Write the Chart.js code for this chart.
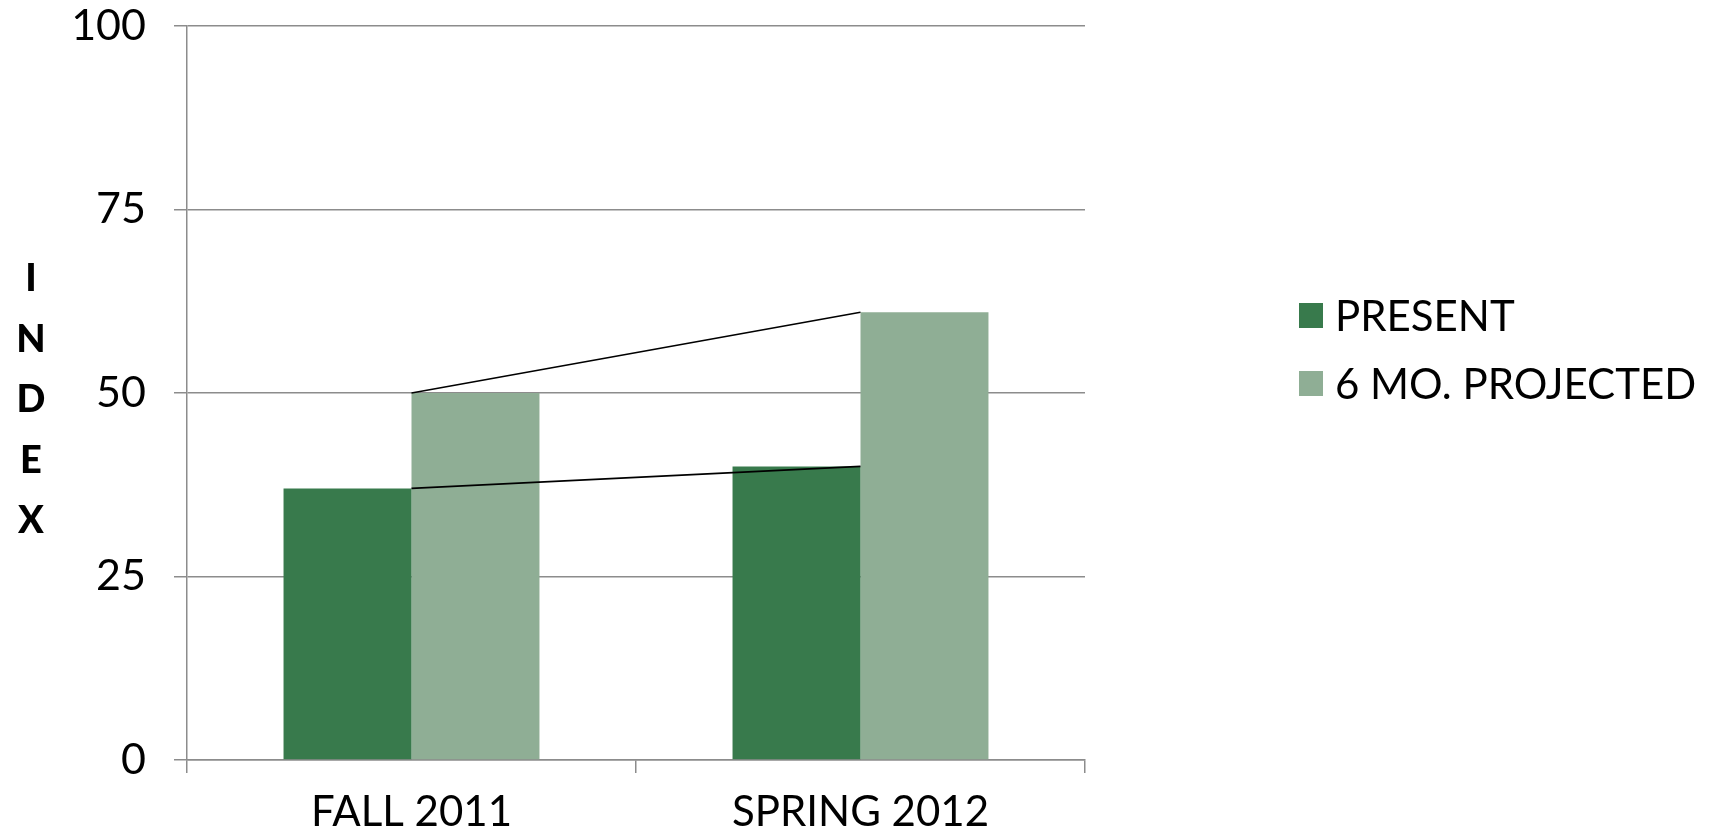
<!DOCTYPE html>
<html><head><meta charset="utf-8">
<script src="https://cdn.jsdelivr.net/npm/chart.js@4"></script>
<style>
html,body{margin:0;padding:0;background:#fff;}
#wrap{position:relative;width:1717px;height:835px;font-family:Lato,"Noto Sans",sans-serif;}
#c{position:absolute;left:0;top:0;}
#ytitle{position:absolute;left:12px;top:246px;width:38px;text-align:center;font-weight:900;font-size:38px;line-height:60.5px;color:#000;}
.leg{position:absolute;left:1299px;font-size:42px;color:#000;white-space:nowrap;}
.leg span.box{position:absolute;left:0;width:24px;height:25px;}
.leg span.t{position:absolute;left:36px;line-height:44px;}
</style></head>
<body><div id="wrap">
<canvas id="c" width="1717" height="835"></canvas>
<div id="ytitle">I<br>N<br>D<br>E<br>X</div>
<div class="leg" style="top:303px"><span class="box" style="background:#387a4c"></span><span class="t" style="top:-10px">PRESENT</span></div>
<div class="leg" style="top:371px"><span class="box" style="background:#8fae95"></span><span class="t" style="top:-10px">6 MO. PROJECTED</span></div>
</div>
<script>
const categories = ["FALL 2011", "SPRING 2012"];
const presentValues = [37, 40];
const projectedValues = [50, 61];
const yTicks = [0, 25, 50, 75, 100];

const grid = '#8c8c8c';
new Chart(document.getElementById('c'), {
  type: 'bar',
  data: {
    labels: categories,
    datasets: [
      {type:'line', label:'present-link', data: presentValues, borderColor:'#000', borderWidth:1.6, pointRadius:0, fill:false, order:0, tension:0},
      {type:'line', label:'projected-link', data: projectedValues, borderColor:'#000', borderWidth:1.6, pointRadius:0, fill:false, order:0, tension:0},
      {label:'PRESENT', data: presentValues, backgroundColor:'#387a4c', order:1, barPercentage:1, categoryPercentage:0.57},
      {label:'6 MO. PROJECTED', data: projectedValues, backgroundColor:'#8fae95', order:1, barPercentage:1, categoryPercentage:0.57}
    ]
  },
  options: {
    responsive:false, animation:false,
    layout:{padding:{left:0, right:632, top:26, bottom:0}},
    plugins:{legend:{display:false}, tooltip:{enabled:false}},
    scales:{
      x:{
        offset:true,
        grid:{display:true, offset:true, drawOnChartArea:false, drawTicks:true, tickLength:13, color:grid, lineWidth:1.5},
        border:{display:true, color:grid, width:1.5},
        ticks:{color:'#000', font:{family:'Lato', size:42}, padding:14},
        afterFit:(s)=>{s.height=75; s.paddingLeft=0; s.paddingRight=0;}
      },
      y:{
        min:0, max:100,
        afterBuildTicks:(s)=>{s.ticks = yTicks.map(v=>({value:v}));},
        grid:{color:grid, lineWidth:1.5, tickLength:13},
        border:{display:true, color:grid, width:1.5},
        ticks:{color:'#000', font:{family:'Lato', size:43}, padding:28},
        afterFit:(s)=>{s.width=187; s.paddingTop=0; s.paddingBottom=0;}
      }
    }
  }
});
</script>
</body></html>
